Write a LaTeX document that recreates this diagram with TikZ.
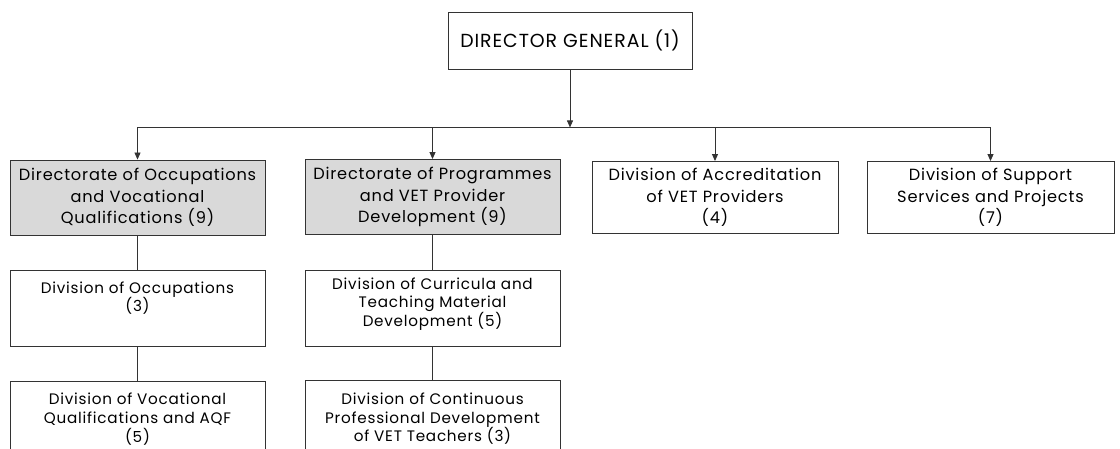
\documentclass[tikz,border=0pt]{standalone}
\usepackage{fontspec}
\setmainfont{Poppins}[LetterSpace=5]
\usetikzlibrary{arrows.meta, positioning, calc}

\begin{document}
\begin{tikzpicture}[x=1pt, y=-1pt,
        box/.style={rectangle, draw=black!80, line width=0.9pt, minimum width=255pt, minimum height=75pt, align=center, inner sep=0pt, fill=white, font=\fontsize{16.2}{21.8}\selectfont},
        headbox/.style={box, fill=gray!30},
        subbox/.style={box, minimum height=76pt, font=\fontsize{15.2}{18.7}\selectfont},
        link/.style={draw=black!80, line width=0.9pt},
        arrow/.style={link, ->, >={Triangle[length=7pt, width=6pt]}}
    ]
    \clip (0,0) rectangle (1120,449);

    % Director General
    \node[box, minimum width=244pt, minimum height=57pt, font=\fontsize{18.9}{20}\selectfont] (dg) at (570,40.5) {DIRECTOR GENERAL (1)};

    % --- First level ---
    \node[headbox] (doq) at (137.5,197.5) {Directorate of Occupations\\and Vocational\\Qualifications (9)};
    \node[headbox] (dpv) at (432.5,197) {Directorate of Programmes\\and VET Provider\\Development (9)};
    \node[box, minimum width=246pt, minimum height=72pt] (dav) at (715,197.5) {Division of Accreditation\\of VET Providers\\(4)};
    \node[box, minimum width=247pt, minimum height=72pt] (dss) at (990.5,197.5) {Division of Support\\Services and Projects\\(7)};

    % --- Divisions under the directorates ---
    \node[subbox, below=35pt of doq] (doc) {Division of Occupations\\(3)\\\strut};
    \node[subbox, below=33.5pt of doc] (dvq) {Division of Vocational\\Qualifications and AQF\\(5)};
    \node[subbox, below=35pt of dpv] (dcm) {Division of Curricula and\\Teaching Material\\Development (5)\\[-6pt]};
    \node[subbox, below=33.5pt of dcm] (dcp) {Division of Continuous\\Professional Development\\of VET Teachers (3)};

    % --- Connectors ---
    \coordinate (bus) at ($(dg.south)+(0,58)$);
    \draw[arrow] (dg.south) -- (bus);
    \draw[link] (doq.north |- bus) -- (dss.north |- bus);
    \foreach \n in {doq, dpv, dav, dss}
        \draw[arrow] (\n.north |- bus) -- (\n.north);

    \draw[link] (doq) -- (doc);
    \draw[link] (doc) -- (dvq);
    \draw[link] (dpv) -- (dcm);
    \draw[link] (dcm) -- (dcp);

\end{tikzpicture}
\end{document}
